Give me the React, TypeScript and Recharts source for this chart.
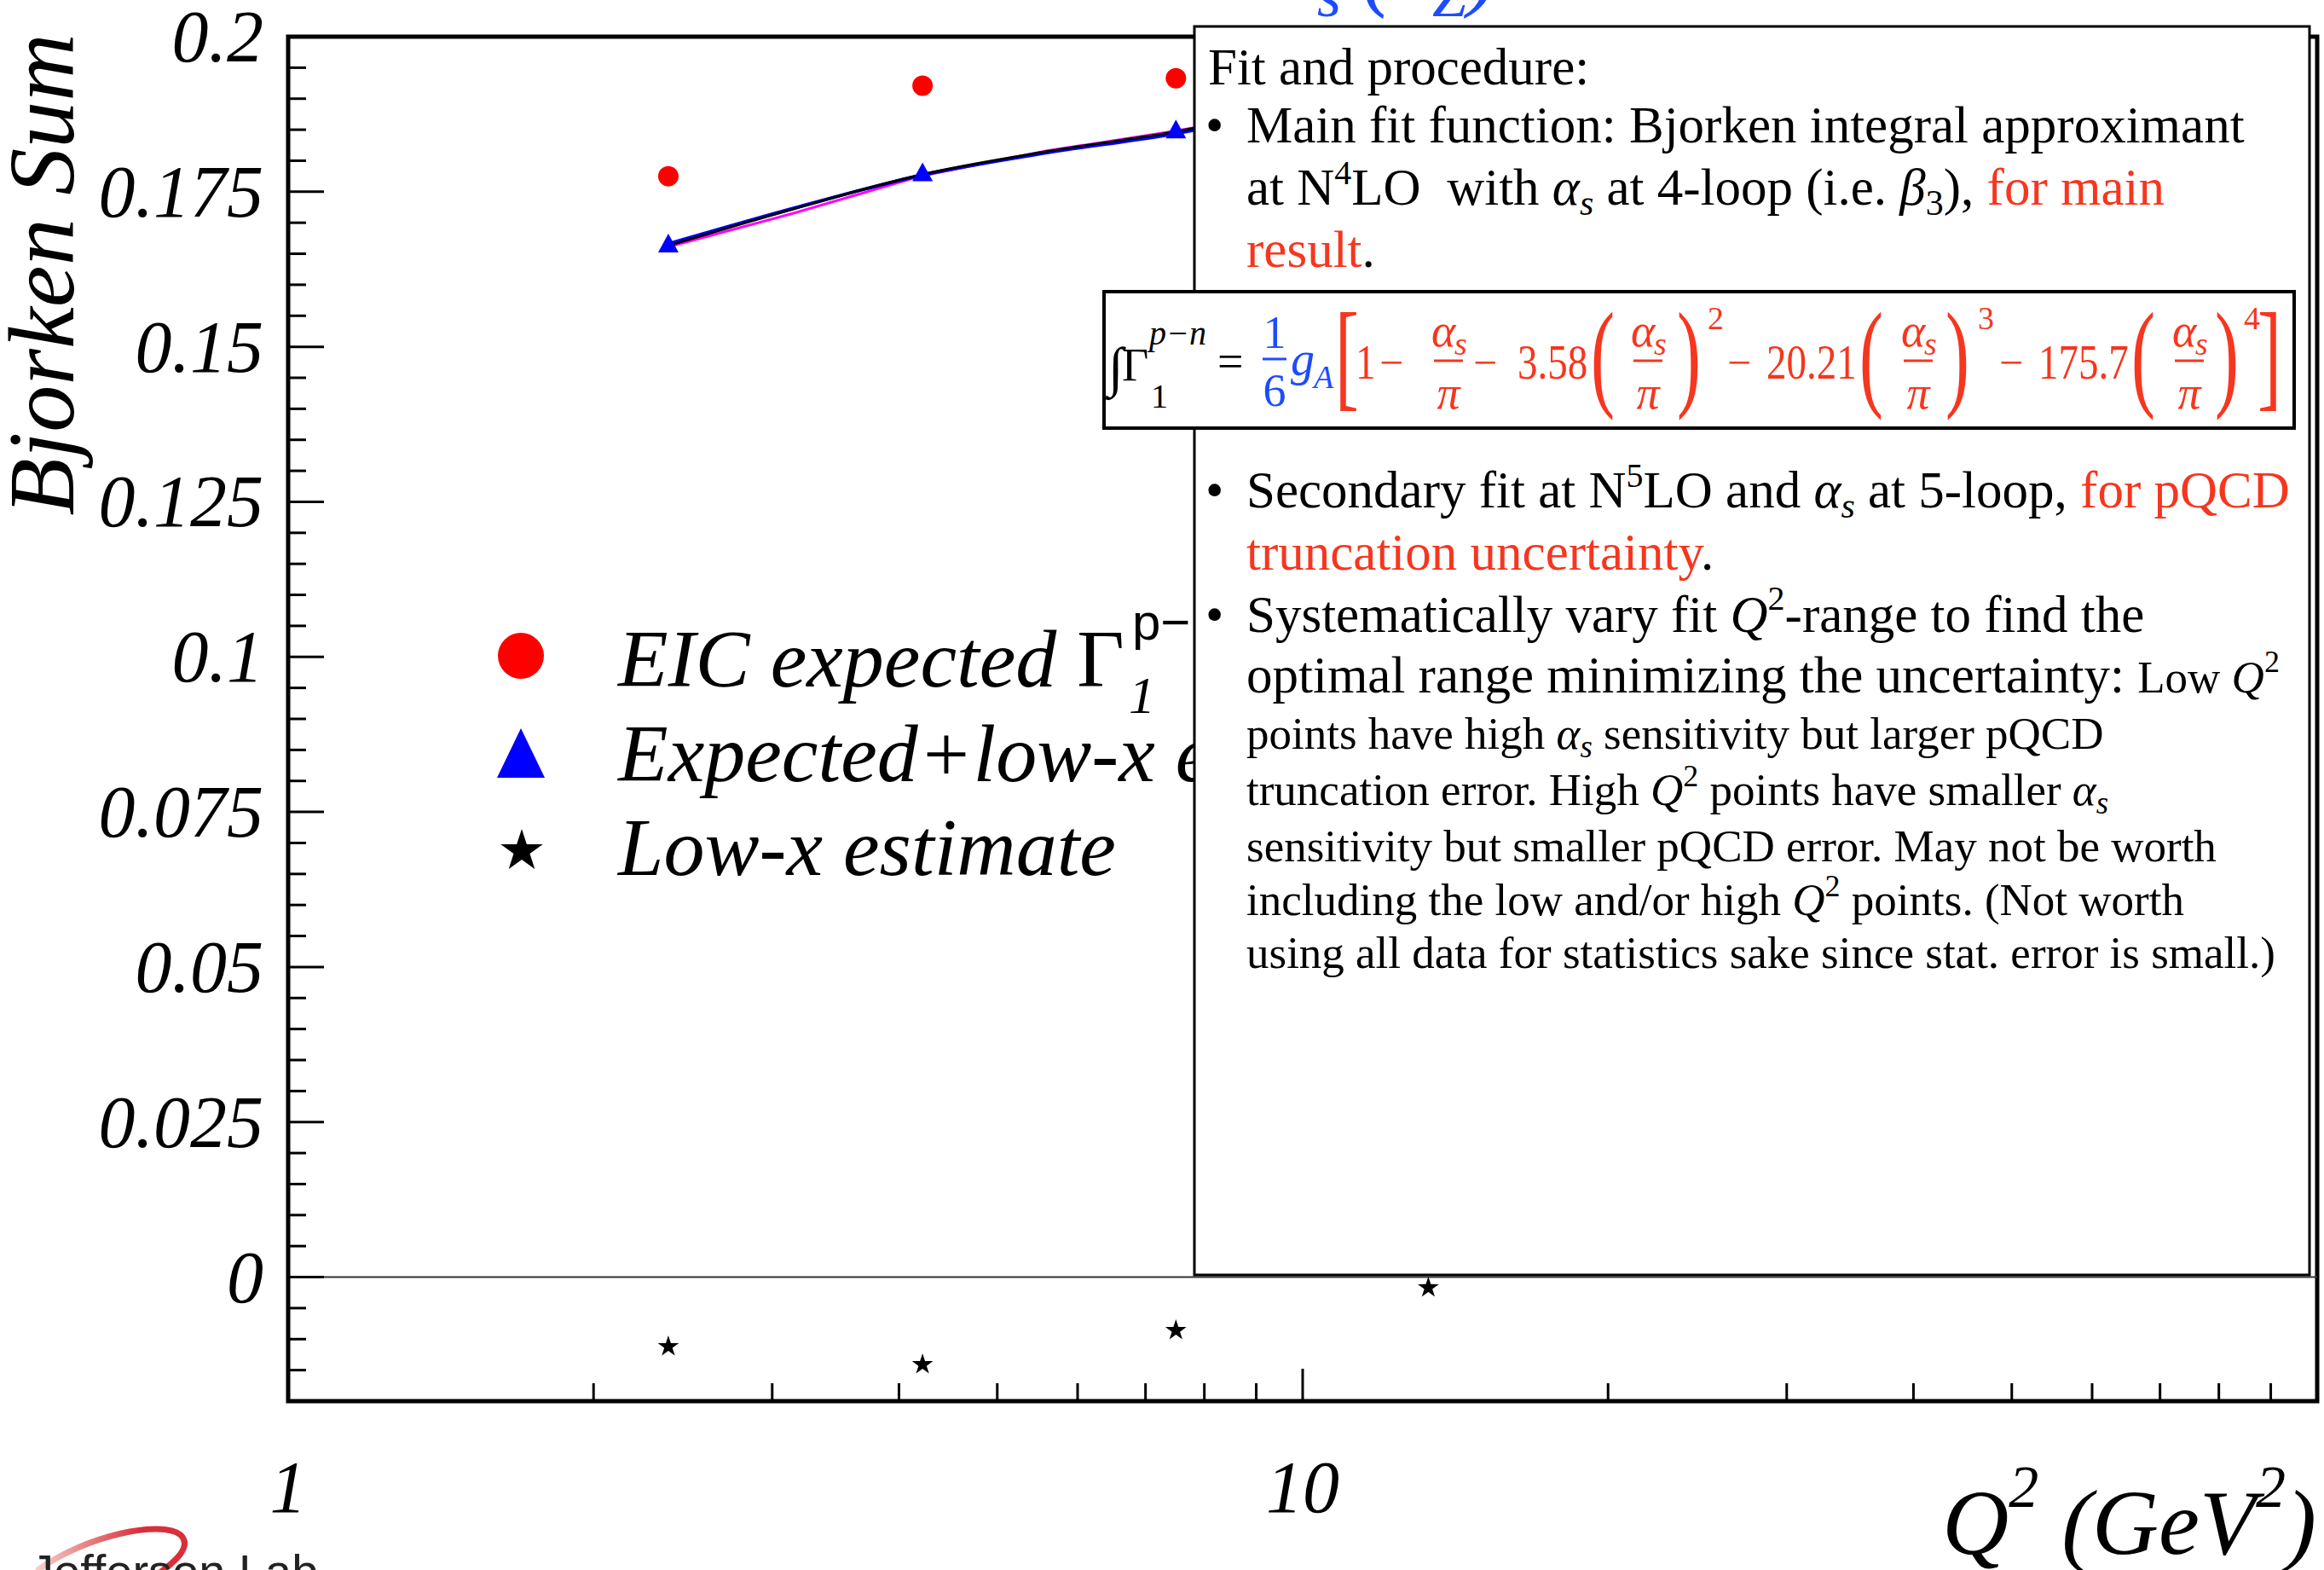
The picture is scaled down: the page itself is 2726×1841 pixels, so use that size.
import React from 'react'
import {
  ComposedChart, XAxis, YAxis, Scatter, Line, ReferenceLine, ReferenceArea, Legend
} from 'recharts'

const SERIF = '"Liberation Serif", "Times New Roman", Times, serif'
const SANS = '"Liberation Sans", Arial, Helvetica, sans-serif'
const RED_TXT = '#f6361f'
const BLUE_TXT = '#1d4cff'

// ---- values ----
const q2Points = [2.37, 4.22, 7.5]
const eicExpected = [0.1775, 0.1921, 0.1933]
const expectedPlusLowX = [0.1663, 0.1778, 0.1847]
const q2LowX = [2.37, 4.22, 7.5, 13.3]
const lowXEstimate = [-0.0112, -0.0141, -0.0086, -0.0017]

// fit curves, visible part only (left of the text panel)
const q2Fit = [2.37, 3.16, 4.22, 5.6, 7.5, 7.85]
const fitBlue = [0.1666, 0.1724, 0.1777, 0.1813, 0.1844, 0.1850]
const fitBlack = [0.1663, 0.1723, 0.1778, 0.1815, 0.1847, 0.1853]
const fitMagenta = [0.1661, 0.1716, 0.1776, 0.1816, 0.1848, 0.1854]

const seriesNames = ['EIC expected', 'Expected+low-x estimate', 'Low-x estimate']

const xTicks = [1, 2, 3, 4, 5, 6, 7, 8, 9, 10, 20, 30, 40, 50, 60, 70, 80, 90, 100]
const xMajor = [1, 10, 100]
const xTickLabels = [1, 10]
const yTickLabels = [0, 0.025, 0.05, 0.075, 0.1, 0.125, 0.15, 0.175, 0.2]
const yMin = -0.02
const yMax = 0.2
const yMinorStep = 0.005

const yTicks = Array.from({ length: Math.round((yMax - yMin) / yMinorStep) + 1 },
  (_, i) => Math.round((yMin + i * yMinorStep) * 1000) / 1000)

const toXY = (xs: number[], ys: number[]) => xs.map((x, i) => ({ x, y: ys[i] }))

const W = 2726
const H = 1841

const isIn = (arr: number[], v: number) => arr.some(a => Math.abs(a - v) < 1e-9)

function YTick(props: any) {
  const { x, y, payload } = props
  const v = payload.value
  const major = isIn(yTickLabels, v)
  return (
    <g>
      <line x1={x} x2={x + (major ? 42 : 21)} y1={y} y2={y} stroke="#000" strokeWidth={3} />
      {major && (
        <text x={x - 29} y={y + 29} textAnchor="end" fontFamily={SERIF} fontStyle="italic" fontSize={86} fill="#000">
          {String(Number(v.toFixed(3)))}
        </text>
      )}
    </g>
  )
}

function XTick(props: any) {
  const { x, y, payload } = props
  const v = payload.value
  const major = isIn(xMajor, v)
  return (
    <g>
      <line x1={x} x2={x} y1={y} y2={y - (major ? 38 : 21)} stroke="#000" strokeWidth={3} />
      {isIn(xTickLabels, v) && (
        <text x={x} y={y + 130} textAnchor="middle" fontFamily={SERIF} fontStyle="italic" fontSize={86} fill="#000">
          {v}
        </text>
      )}
    </g>
  )
}

const RedDot = (p: any) => <circle cx={p.cx} cy={p.cy} r={12} fill="#ff0000" />
const BlueTri = (p: any) => (
  <polygon points={`${p.cx},${p.cy - 14} ${p.cx + 12},${p.cy + 8} ${p.cx - 12},${p.cy + 8}`} fill="#0000ff" />
)
const starPts = (cx: number, cy: number, R: number, r: number) => {
  const pts: string[] = []
  for (let i = 0; i < 10; i++) {
    const rad = i % 2 === 0 ? R : r
    const a = -Math.PI / 2 + (i * Math.PI) / 5
    pts.push(`${cx + rad * Math.cos(a)},${cy + rad * Math.sin(a)}`)
  }
  return pts.join(' ')
}
const Star = (p: any) => <polygon points={starPts(p.cx, p.cy, 13, 5)} fill="#000" />

function LegendBox() {
  const t = { fontFamily: SERIF, fontStyle: 'italic' as const, fontSize: 96, fill: '#000' }
  return (
    <svg width={1000} height={340} style={{ overflow: 'visible', display: 'block' }}>
      <circle cx={51} cy={49} r={27} fill="#ff0000" />
      <text x={165} y={85} {...t}>{seriesNames[0]} <tspan fontStyle="normal">Γ</tspan></text>
      <text x={768} y={30} fontFamily={SANS} fontSize={60} fill="#000">p−n</text>
      <text x={764} y={116} fontFamily={SERIF} fontStyle="italic" fontSize={62} fill="#000">1</text>
      <polygon points="51,134 23,192 79,192" fill="#0000ff" />
      <text x={165} y={196} {...t}>{seriesNames[1]}</text>
      <polygon points={starPts(52, 278, 26, 10)} fill="#000" />
      <text x={165} y={306} {...t}>{seriesNames[2]}</text>
    </svg>
  )
}

function Frac({ cx }: { cx: number }) {
  return (
    <g fill={RED_TXT} fontFamily={SERIF} fontStyle="italic">
      <text x={cx - 18} y={406} fontSize={54}>α</text>
      <text x={cx + 9} y={416} fontSize={38}>s</text>
      <line x1={cx - 15} x2={cx + 19} y1={423} y2={423} stroke={RED_TXT} strokeWidth={3} />
      <text x={cx + 2} y={479} fontSize={54} textAnchor="middle">π</text>
    </g>
  )
}

const Paren = ({ x, ch }: { x: number; ch: string }) => (
  <text transform={`translate(${x},463) scale(0.6,1)`} fontFamily={SERIF} fontSize={140} fill={RED_TXT}>{ch}</text>
)

function Formula() {
  const r = { fontFamily: SERIF, fontSize: 50, fill: RED_TXT }
  const num = (x: number, s: string) => (
    <text transform={`translate(${x},444) scale(0.94,1.16)`} fontFamily={SERIF} fontSize={50} fill={RED_TXT}>{s}</text>
  )
  return (
    <g>
      <rect x={1295} y={342} width={1396} height={160} fill="#fff" stroke="#000" strokeWidth={4} />
      <text x={1300} y={452} fontFamily={SERIF} fontSize={64}>∫</text>
      <text x={1316} y={446} fontFamily={SERIF} fontSize={54}>Γ</text>
      <text x={1348} y={404} fontFamily={SERIF} fontStyle="italic" fontSize={40}>p−n</text>
      <text x={1350} y={478} fontFamily={SERIF} fontSize={40}>1</text>
      <text x={1428} y={442} fontFamily={SERIF} fontSize={54}>=</text>
      <g fill={BLUE_TXT} fontFamily={SERIF}>
        <text x={1495} y={408} fontSize={54} textAnchor="middle">1</text>
        <line x1={1481} x2={1509} y1={421} y2={421} stroke={BLUE_TXT} strokeWidth={3} />
        <text x={1495} y={476} fontSize={54} textAnchor="middle">6</text>
        <text x={1514} y={440} fontSize={56} fontStyle="italic">g</text>
        <text x={1541} y={455} fontSize={38} fontStyle="italic">A</text>
      </g>
      <Paren x={1566} ch="[" />
      {num(1590, '1')}
      <text x={1618} y={442} {...r}>−</text>
      <Frac cx={1697} />
      <text x={1728} y={442} {...r}>−</text>
      {num(1780, '3.58')}
      <Paren x={1866} ch="(" />
      <Frac cx={1931} />
      <Paren x={1967} ch=")" />
      <text x={2003} y={386} fontFamily={SERIF} fontSize={38} fill={RED_TXT}>2</text>
      <text x={2026} y={442} {...r}>−</text>
      {num(2072, '20.21')}
      <Paren x={2181} ch="(" />
      <Frac cx={2248} />
      <Paren x={2282} ch=")" />
      <text x={2320} y={386} fontFamily={SERIF} fontSize={38} fill={RED_TXT}>3</text>
      <text x={2345} y={442} {...r}>−</text>
      {num(2391, '175.7')}
      <Paren x={2500} ch="(" />
      <Frac cx={2566} />
      <Paren x={2598} ch=")" />
      <text x={2632} y={386} fontFamily={SERIF} fontSize={38} fill={RED_TXT}>4</text>
      <Paren x={2648} ch="]" />
    </g>
  )
}

function Panel() {
  const big = { fontFamily: SERIF, fontSize: 61, fill: '#000', xmlSpace: 'preserve' as any }
  const sm = { fontFamily: SERIF, fontSize: 53, fill: '#000' }
  const tx = 1462
  return (
    <svg width={W} height={H} style={{ position: 'absolute', left: 0, top: 0, zIndex: 2, pointerEvents: 'none' }}>
      {/* title, mostly cut off at the top */}
      <g fill={BLUE_TXT} fontFamily={SERIF} fontStyle="italic">
        <text x={1490} y={-4} fontSize={108}>α</text>
        <text x={1545} y={19} fontSize={72}>s</text>
        <text x={1598} y={-1} fontSize={108}>(</text>
        <text x={1622} y={-4} fontSize={108}>M</text>
        <text x={1680} y={19} fontSize={72}>Z</text>
        <text x={1722} y={-1} fontSize={108}>)</text>
      </g>

      <rect x={1401} y={31} width={1308} height={1464} fill="#fff" stroke="#000" strokeWidth={3} />
      <g>
        <text x={1417} y={99} {...big}>Fit and procedure:</text>
        <text x={1414} y={167} {...big}>•</text>
        <text x={tx} y={167} {...big}>Main fit function: Bjorken integral approximant</text>
        <text x={tx} y={240} {...big}>
          at N<tspan fontSize={40} dy={-24}>4</tspan><tspan dy={24}>LO  with </tspan>
          <tspan fontStyle="italic">α</tspan><tspan fontStyle="italic" fontSize={42} dy={12}>s</tspan>
          <tspan dy={-12}> at 4-loop (i.e. </tspan><tspan fontStyle="italic">β</tspan>
          <tspan fontSize={42} dy={12}>3</tspan><tspan dy={-12}>), </tspan>
          <tspan fill={RED_TXT}>for main</tspan>
        </text>
        <text x={tx} y={313} {...big}><tspan fill={RED_TXT}>result</tspan>.</text>

        <Formula />

        <text x={1414} y={595} {...big}>•</text>
        <text x={tx} y={595} {...big}>
          Secondary fit at N<tspan fontSize={40} dy={-24}>5</tspan><tspan dy={24}>LO and </tspan>
          <tspan fontStyle="italic">α</tspan><tspan fontStyle="italic" fontSize={42} dy={12}>s</tspan>
          <tspan dy={-12}> at 5-loop, </tspan><tspan fill={RED_TXT}>for pQCD</tspan>
        </text>
        <text x={tx} y={668} {...big}><tspan fill={RED_TXT}>truncation uncertainty</tspan>.</text>
        <text x={1414} y={741} {...big}>•</text>
        <text x={tx} y={741} {...big}>
          Systematically vary fit <tspan fontStyle="italic">Q</tspan>
          <tspan fontSize={40} dy={-26}>2</tspan><tspan dy={26}>-range to find the</tspan>
        </text>
        <text x={tx} y={812} {...big}>
          optimal range minimizing the uncertainty: <tspan fontSize={53}>Low </tspan>
          <tspan fontSize={53} fontStyle="italic">Q</tspan>
          <tspan fontSize={36} dy={-24}>2</tspan>
        </text>
        <text x={tx} y={878} {...sm}>
          points have high <tspan fontStyle="italic">α</tspan>
          <tspan fontStyle="italic" fontSize={37} dy={10}>s</tspan>
          <tspan dy={-10}> sensitivity but larger pQCD</tspan>
        </text>
        <text x={tx} y={944} {...sm}>
          truncation error. High <tspan fontStyle="italic">Q</tspan>
          <tspan fontSize={36} dy={-22}>2</tspan><tspan dy={22}> points have smaller </tspan>
          <tspan fontStyle="italic">α</tspan><tspan fontStyle="italic" fontSize={37} dy={10}>s</tspan>
        </text>
        <text x={tx} y={1010} {...sm}>sensitivity but smaller pQCD error. May not be worth</text>
        <text x={tx} y={1073} {...sm}>
          including the low and/or high <tspan fontStyle="italic">Q</tspan>
          <tspan fontSize={36} dy={-22}>2</tspan><tspan dy={22}> points. (Not worth</tspan>
        </text>
        <text x={tx} y={1135} {...sm}>using all data for statistics sake since stat. error is small.)</text>
      </g>

      {/* lab logo, cut at the bottom edge */}
      <defs>
        <linearGradient id="jlabSwoosh" x1="0" y1="0" x2="1" y2="0">
          <stop offset="0%" stopColor="#f6d0c8" />
          <stop offset="70%" stopColor="#d8303a" />
        </linearGradient>
      </defs>
      <path d="M 43 1842 C 100 1800, 190 1782, 212 1800 C 226 1814, 205 1832, 182 1848"
        fill="none" stroke="url(#jlabSwoosh)" strokeWidth={7} />
      <text x={35} y={1862} fontFamily={SANS} fontSize={56} fill="#222">Jefferson Lab</text>
    </svg>
  )
}

const XTitle = () => (
  <text x={2717} y={1822} textAnchor="end" fontFamily={SERIF} fontStyle="italic" fontSize={108} fill="#000">
    Q<tspan fontSize={70} dy={-55}>2</tspan><tspan dy={55}> (GeV</tspan>
    <tspan fontSize={70} dy={-55}>2</tspan><tspan dy={55}>)</tspan>
  </text>
)

const YTitle = () => (
  <text x={86} y={322} transform="rotate(-90 86 322)" textAnchor="middle" fontFamily={SERIF}
    fontStyle="italic" fontSize={110} fill="#000">
    Bjorken Sum
  </text>
)

export default function App() {
  return (
    <div style={{ position: 'absolute', left: 0, top: 0, width: W, height: H, overflow: 'hidden', background: '#fff' }}>
      <ComposedChart width={W} height={H} margin={{ top: 43, right: 8, bottom: 0, left: 0 }}>
        <XAxis
          type="number" dataKey="x" scale="log" domain={[1, 100]} ticks={xTicks} interval={0}
          allowDataOverflow axisLine={false} tickLine={false} tickSize={0} tickMargin={0} height={198}
          tick={(p: any) => <XTick {...p} />}
          label={{ content: () => <XTitle /> }}
        />
        <YAxis
          type="number" dataKey="y" domain={[yMin, yMax]} ticks={yTicks} interval={0}
          allowDataOverflow axisLine={false} tickLine={false} tickSize={0} tickMargin={0} width={338}
          tick={(p: any) => <YTick {...p} />}
          label={{ content: () => <YTitle /> }}
        />
        <ReferenceLine y={0} stroke="#333" strokeWidth={2} />
        <Line data={toXY(q2Fit, fitMagenta)} dataKey="y" type="linear" stroke="#ff00ff" strokeWidth={3} dot={false} isAnimationActive={false} />
        <Line data={toXY(q2Fit, fitBlue)} dataKey="y" type="monotone" stroke="#0000ff" strokeWidth={4} dot={false} isAnimationActive={false} />
        <Line data={toXY(q2Fit, fitBlack)} dataKey="y" type="monotone" stroke="#000" strokeWidth={3} dot={false} isAnimationActive={false} />
        <Scatter name={seriesNames[0]} data={toXY(q2Points, eicExpected)} dataKey="y" shape={RedDot} isAnimationActive={false} />
        <Scatter name={seriesNames[1]} data={toXY(q2Points, expectedPlusLowX)} dataKey="y" shape={BlueTri} isAnimationActive={false} />
        <Scatter name={seriesNames[2]} data={toXY(q2LowX, lowXEstimate)} dataKey="y" shape={Star} isAnimationActive={false} />
        <ReferenceArea x1={1} x2={100} y1={yMin} y2={yMax} fill="none" stroke="#000" strokeWidth={5} />
        <Legend
          layout="vertical" align="center" verticalAlign="middle"
          wrapperStyle={{ left: 560, top: 720, width: 1000, height: 340 }}
          content={() => <LegendBox />}
        />
      </ComposedChart>
      <Panel />
    </div>
  )
}
